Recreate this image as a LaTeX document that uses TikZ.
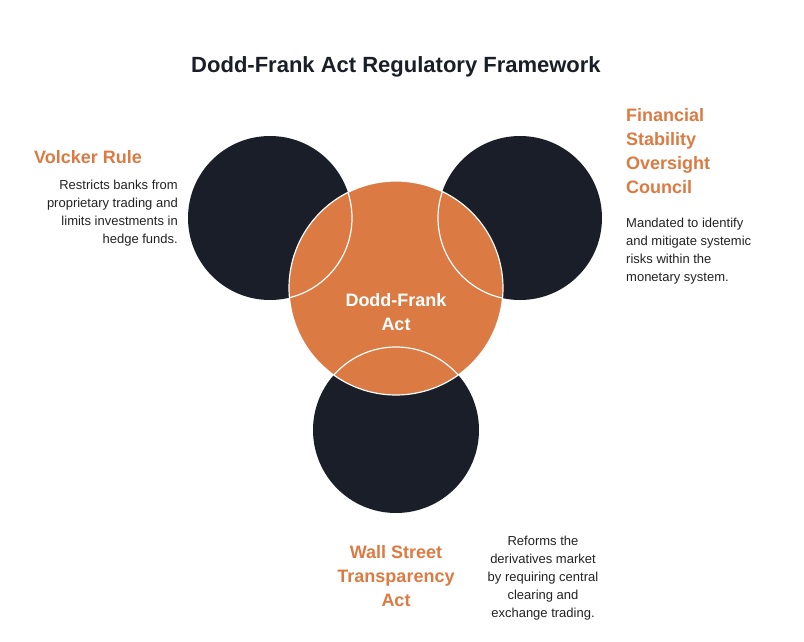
\documentclass[tikz,border=0pt]{standalone}
\usepackage{fontspec}
\setmainfont{Liberation Sans}
\definecolor{dk}{HTML}{1A1E28}
\definecolor{org}{HTML}{DC7A43}
\definecolor{txt}{HTML}{222222}
\begin{document}
\begin{tikzpicture}[x=1pt,y=-1pt,
  head/.style={text=org,font=\bfseries\fontsize{18}{24}\selectfont,inner sep=0pt},
  body/.style={text=txt,font=\fontsize{13}{18}\selectfont,inner sep=0pt},
  dark/.style={fill=dk,draw=none}]
\useasboundingbox (0,0) rectangle (804,642);
\node[font=\bfseries\fontsize{22}{26}\selectfont,text=dk] (title) at (396,67) {Dodd-Frank Act Regulatory Framework};
\path[dark] (270,218) circle (82);
\path[dark] (520,218) circle (82);
\path[dark] (396,430) circle (83);
\node[circle,fill=org,draw=white,line width=1.2pt,minimum size=214pt,inner sep=0pt] (c) at (396,288) {};
\begin{scope}
\clip (396,288) circle (107);
\draw[white,line width=1.2pt] (270,218) circle (82) (520,218) circle (82) (396,430) circle (83);
\end{scope}
\node[text=white,font=\bfseries\fontsize{18}{24}\selectfont,align=center] (ct) at (396,312) {Dodd-Frank\\Act};
\node[head,anchor=west] (vr) at (34,157) {Volcker Rule};
\node[body,anchor=north east,align=right] (vrb) at (178,180) {Restricts banks from\\proprietary trading and\\limits investments in\\hedge funds.};
\node[head,anchor=north west,align=left] (fs) at (626,108) {Financial\\Stability\\Oversight\\Council};
\node[body,anchor=north west,align=left] (fsb) at (626,218) {Mandated to identify\\and mitigate systemic\\risks within the\\monetary system.};
\node[head,align=center] (ws) at (396,576) {Wall Street\\Transparency\\Act};
\node[body,align=center] (wsb) at (543,578) {Reforms the\\derivatives market\\by requiring central\\clearing and\\exchange trading.};
\end{tikzpicture}
\end{document}
